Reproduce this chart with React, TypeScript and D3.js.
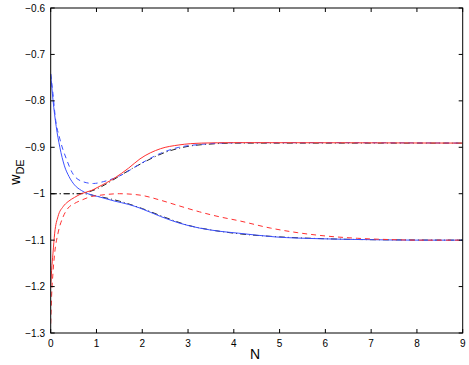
import React from "react";
import * as d3 from "d3";

const xTicks = [0, 1, 2, 3, 4, 5, 6, 7, 8, 9];
const yTicks = [-0.6, -0.7, -0.8, -0.9, -1, -1.1, -1.2, -1.3];

const blackUpperN = [0, 0.6, 0.8, 1.0, 1.3, 1.5, 2, 2.5, 3, 3.5, 4, 5, 9];
const blackUpperW = [-1, -1, -0.997, -0.99, -0.974, -0.962, -0.934, -0.911, -0.898, -0.893, -0.891, -0.891, -0.891];
const blackLowerN = [0, 0.7, 1.0, 1.5, 2, 2.5, 3, 3.5, 4, 5, 6, 7, 9];
const blackLowerW = [-1, -1, -1.005, -1.016, -1.032, -1.051, -1.068, -1.078, -1.085, -1.093, -1.097, -1.099, -1.1];

const blueSolidN = [0, 0.05, 0.12, 0.2, 0.3, 0.4, 0.52, 0.67, 0.81, 1.03, 1.4, 1.7, 1.95, 2.4, 2.8, 3.25, 3.7, 4.1, 4.9, 5.9, 7, 8, 9];
const blueSolidW = [-0.742, -0.798, -0.855, -0.9, -0.94, -0.963, -0.981, -0.993, -1.0, -1.006, -1.016, -1.023, -1.031, -1.049, -1.063, -1.074, -1.081, -1.085, -1.093, -1.097, -1.099, -1.1, -1.1];

const blueDashN = [0, 0.05, 0.1, 0.2, 0.35, 0.49, 0.7, 0.93, 1.15, 1.5, 1.95, 2.4, 2.8, 3.25, 3.7, 4.5, 6, 9];
const blueDashW = [-0.742, -0.785, -0.835, -0.882, -0.927, -0.958, -0.974, -0.978, -0.974, -0.962, -0.936, -0.913, -0.9, -0.894, -0.891, -0.89, -0.89, -0.891];

const redSolidN = [0, 0.02, 0.05, 0.087, 0.16, 0.27, 0.38, 0.52, 0.67, 0.89, 1.03, 1.4, 1.7, 1.95, 2.4, 2.8, 3.3, 4, 9];
const redSolidW = [-1.2, -1.165, -1.128, -1.085, -1.049, -1.028, -1.017, -1.008, -1.0, -0.993, -0.986, -0.966, -0.945, -0.925, -0.903, -0.895, -0.891, -0.89, -0.891];

const redDashN = [0, 0.02, 0.05, 0.087, 0.16, 0.27, 0.38, 0.52, 0.67, 0.89, 1.1, 1.5, 1.95, 2.4, 2.8, 3.25, 3.7, 4.1, 4.8, 5.4, 6, 6.7, 7.5, 8, 9];
const redDashW = [-1.28, -1.22, -1.17, -1.128, -1.085, -1.05, -1.031, -1.021, -1.014, -1.006, -1.003, -1.0, -1.003, -1.014, -1.026, -1.039, -1.05, -1.058, -1.074, -1.084, -1.091, -1.096, -1.099, -1.1, -1.1];

const series = [
  { n: blackLowerN, w: blackLowerW, color: "#222", dash: "6,3,1,3" },
  { n: blackUpperN, w: blackUpperW, color: "#222", dash: "6,3,1,3" },
  { n: blueSolidN, w: blueSolidW, color: "#3c50ff", dash: "none" },
  { n: blueDashN, w: blueDashW, color: "#3c50ff", dash: "5,4" },
  { n: redSolidN, w: redSolidW, color: "#ff3030", dash: "none" },
  { n: redDashN, w: redDashW, color: "#ff3030", dash: "5,4" },
];

const W = 469;
const H = 365;
const left = 50.7;
const right = 462.7;
const top = 8;
const bottom = 333;

export default function App() {
  const x = d3.scaleLinear().domain([0, 9]).range([left, right]);
  const y = d3.scaleLinear().domain([-1.3, -0.6]).range([bottom, top]);
  const fmt = (v: number) => {
    const s = d3.format("")(v);
    return s.replace("-", "\u2212");
  };
  return (
    <div style={{ position: "absolute", left: 0, top: 0 }}>
      <svg width={W} height={H} style={{ display: "block" }} fontFamily="Liberation Sans, Arial, sans-serif">
        <rect x={0} y={0} width={W} height={H} fill="white" />
        <defs>
          <clipPath id="plot">
            <rect x={left} y={top} width={right - left} height={bottom - top} />
          </clipPath>
        </defs>
        <g clipPath="url(#plot)">
          {series.map((s, i) => {
            const pts: [number, number][] = s.n.map((nv, j) => [nv, s.w[j]]);
            const line = d3
              .line<[number, number]>()
              .x((d) => x(d[0]))
              .y((d) => y(d[1]))
              .curve(d3.curveMonotoneX);
            return (
              <path
                key={i}
                d={line(pts) || ""}
                fill="none"
                stroke={s.color}
                strokeWidth={1}
                strokeDasharray={s.dash}
              />
            );
          })}
        </g>
        <rect x={left} y={top} width={right - left} height={bottom - top} fill="none" stroke="#000" strokeWidth={1} />
        {xTicks.map((t) => (
          <g key={"x" + t}>
            <line x1={x(t)} x2={x(t)} y1={bottom} y2={bottom - 4} stroke="#000" />
            <line x1={x(t)} x2={x(t)} y1={top} y2={top + 4} stroke="#000" />
            <text x={x(t)} y={347} textAnchor="middle" fontSize={10} fill="#000">
              {fmt(t)}
            </text>
          </g>
        ))}
        {yTicks.map((t) => (
          <g key={"y" + t}>
            <line x1={left} x2={left + 4} y1={y(t)} y2={y(t)} stroke="#000" />
            <line x1={right} x2={right - 4} y1={y(t)} y2={y(t)} stroke="#000" />
            <text x={45} y={y(t) + 3.5} textAnchor="end" fontSize={10} fill="#000">
              {fmt(t)}
            </text>
          </g>
        ))}
        <text x={255} y={359} textAnchor="middle" fontSize={14} fill="#000">
          N
        </text>
        <text transform="translate(20,172) rotate(-90)" textAnchor="middle" fontSize={14} fill="#000">
          w<tspan dy={4} fontSize={11}>DE</tspan>
        </text>
      </svg>
    </div>
  );
}
